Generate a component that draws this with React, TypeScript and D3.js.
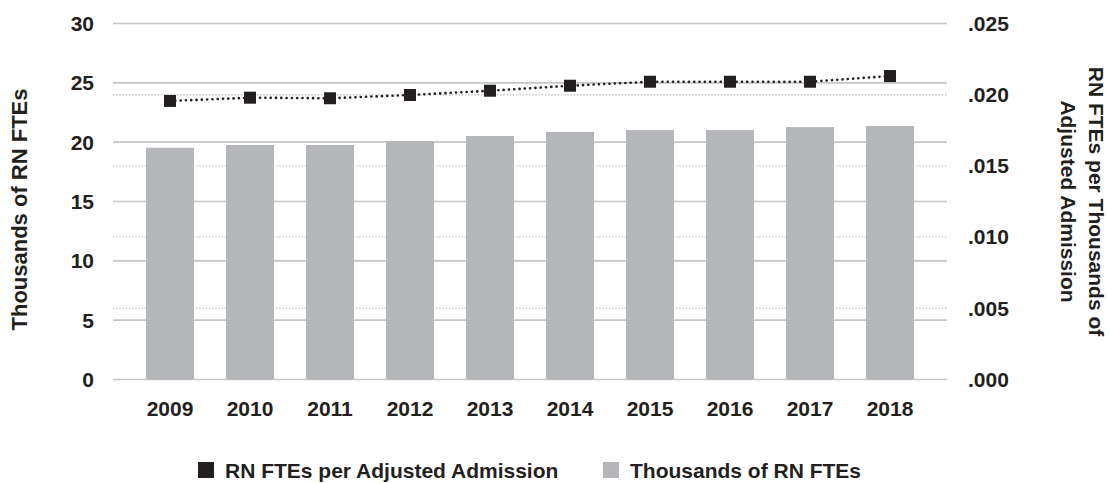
import React from "react";
import * as d3 from "d3";

const years = ["2009", "2010", "2011", "2012", "2013", "2014", "2015", "2016", "2017", "2018"];
const rnFtesThousands = [19.53, 19.76, 19.76, 20.1, 20.52, 20.86, 21.02, 21.02, 21.27, 21.36];
const rnFtesPerAdmission = [0.01956, 0.01979, 0.01975, 0.01998, 0.02028, 0.02063, 0.02091, 0.02091, 0.02091, 0.02131];
const leftTicks = [0, 5, 10, 15, 20, 25, 30];
const rightTicks = [0, 0.005, 0.01, 0.015, 0.02, 0.025];
const leftTitle = "Thousands of RN FTEs";
const rightTitleLines = ["RN FTEs per Thousands of", "Adjusted Admission"];
const legendItems = ["RN FTEs per Adjusted Admission", "Thousands of RN FTEs"];

const W = 1109;
const H = 483;
const FONT = "'Liberation Sans', Arial, Helvetica, sans-serif";
const TEXT = "#231f20";
const BAR = "#b5b6b9";
const GRID = "#c6c6c6";

export default function App() {
  const plotLeft = 113;
  const plotRight = 947;
  const top = 23.5;
  const bottom = 379.5;

  const x = d3.scaleBand<string>().domain(years).range([130, 930]).paddingInner(0.4).paddingOuter(0.2);
  const yL = d3.scaleLinear().domain([0, 30]).range([bottom, top]);
  const yR = d3.scaleLinear().domain([0, 0.025]).range([bottom, top]);

  const cx = (y: string) => (x(y) as number) + x.bandwidth() / 2;
  const lineGen = d3
    .line<number>()
    .x((_, i) => cx(years[i]))
    .y((d) => yR(d));

  const fmtR = (v: number) => d3.format(".3f")(v).replace(/^0/, "");
  const ms = 12;
  const midY = (top + bottom) / 2;

  return (
    <svg
      width={W}
      height={H}
      style={{ position: "absolute", left: 0, top: 0, background: "#fff" }}
      fontFamily={FONT}
      fontWeight="bold"
      fontSize={21}
      fill={TEXT}
    >
      {/* right-axis dotted gridlines */}
      {rightTicks
        .filter((t) => t > 0 && t < 0.025)
        .map((t) => (
          <line
            key={"rg" + t}
            x1={plotLeft}
            x2={plotRight}
            y1={yR(t)}
            y2={yR(t)}
            stroke="#bdbdbd"
            strokeWidth={1.4}
            strokeDasharray="1.2,2"
          />
        ))}
      {/* left-axis solid gridlines */}
      {leftTicks.map((t) => (
        <line key={"lg" + t} x1={plotLeft} x2={plotRight} y1={yL(t)} y2={yL(t)} stroke={GRID} strokeWidth={1.6} />
      ))}
      {/* bars */}
      {years.map((yr, i) => (
        <rect
          key={"b" + yr}
          x={x(yr)}
          y={yL(rnFtesThousands[i])}
          width={x.bandwidth()}
          height={bottom - yL(rnFtesThousands[i])}
          fill={BAR}
        />
      ))}
      {/* line */}
      <path
        d={lineGen(rnFtesPerAdmission) || ""}
        fill="none"
        stroke={TEXT}
        strokeWidth={2.6}
        strokeDasharray="0.1,5.2"
        strokeLinecap="round"
      />
      {rnFtesPerAdmission.map((v, i) => (
        <rect key={"m" + i} x={cx(years[i]) - ms / 2} y={yR(v) - ms / 2} width={ms} height={ms} fill={TEXT} />
      ))}
      {/* left ticks */}
      {leftTicks.map((t) => (
        <text key={"lt" + t} x={94} y={yL(t)} dy="0.35em" textAnchor="end">
          {t}
        </text>
      ))}
      {/* right ticks */}
      {rightTicks.map((t) => (
        <text key={"rt" + t} x={968} y={yR(t)} dy="0.35em" textAnchor="start">
          {fmtR(t)}
        </text>
      ))}
      {/* x labels */}
      {years.map((yr) => (
        <text key={"x" + yr} x={cx(yr)} y={416} textAnchor="middle">
          {yr}
        </text>
      ))}
      {/* left title */}
      <text transform={`translate(27,${midY + 8}) rotate(-90)`} textAnchor="middle" fontSize={22}>
        {leftTitle}
      </text>
      {/* right title */}
      {rightTitleLines.map((l, i) => (
        <text key={"rtl" + i} transform={`translate(${1089 - i * 28},${midY}) rotate(90)`} textAnchor="middle">
          {l}
        </text>
      ))}
      {/* legend */}
      <g>
        <rect x={198} y={462} width={16} height={16} fill={TEXT} />
        <text x={225} y={478}>
          {legendItems[0]}
        </text>
        <rect x={603} y={462} width={16} height={16} fill={BAR} />
        <text x={630} y={478}>
          {legendItems[1]}
        </text>
      </g>
    </svg>
  );
}
